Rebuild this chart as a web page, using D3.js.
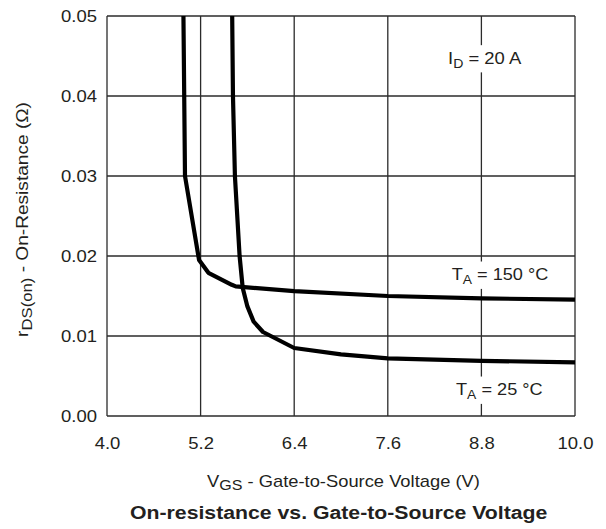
<!DOCTYPE html>
<html>
<head>
<meta charset="utf-8">
<script src="https://cdn.jsdelivr.net/npm/d3@7"></script>
<style>
  html, body { margin: 0; padding: 0; background: #fff; }
  text { font-family: "Liberation Sans", Arial, Helvetica, sans-serif; fill: #231f20; }
</style>
</head>
<body>
<svg id="chart" width="606" height="529"></svg>
<script>
// ---- data ----
const xTicks = [4.0, 5.2, 6.4, 7.6, 8.8, 10.0];
const yTicks = [0.00, 0.01, 0.02, 0.03, 0.04, 0.05];
const vgs150 = [4.98, 5.00, 5.18, 5.30, 5.60, 5.65, 6.40, 7.60, 8.80, 10.00];
const r150   = [0.0500, 0.0300, 0.0195, 0.0179, 0.0164, 0.0162, 0.0156, 0.0150, 0.0147, 0.01455];
const vgs25  = [5.605, 5.615, 5.64, 5.70, 5.74, 5.80, 5.88, 6.00, 6.40, 7.00, 7.60, 8.80, 10.00];
const r25    = [0.0500, 0.0400, 0.0300, 0.0200, 0.0160, 0.0137, 0.0118, 0.0105, 0.0085, 0.0077, 0.0072, 0.0069, 0.0067];

const svg = d3.select("#chart");
const pLeft = 107, pRight = 575, pTop = 16, pBottom = 416;
const x = d3.scaleLinear().domain([4, 10]).range([pLeft, pRight]);
const y = d3.scaleLinear().domain([0, 0.05]).range([pBottom, pTop]);
const FONT = "Liberation Sans, Arial, sans-serif";

// grid
const grid = svg.append("g").attr("stroke", "#2b2b2b").attr("stroke-width", 1.3);
grid.selectAll("line.v").data(xTicks).enter().append("line")
  .attr("x1", d => x(d)).attr("x2", d => x(d)).attr("y1", pTop).attr("y2", pBottom);
grid.selectAll("line.h").data(yTicks).enter().append("line")
  .attr("x1", pLeft).attr("x2", pRight).attr("y1", d => y(d)).attr("y2", d => y(d));

function stretchTicks(sel, f) {
  sel.each(function() {
    const w = this.getComputedTextLength();
    d3.select(this).attr("textLength", w * f).attr("lengthAdjust", "spacingAndGlyphs");
  });
}

// axes (labels only)
const xAxis = d3.axisBottom(x).tickValues(xTicks).tickFormat(d3.format(".1f")).tickSize(0).tickPadding(21);
const gx = svg.append("g").attr("transform", `translate(0,${pBottom})`).call(xAxis);
gx.select(".domain").remove();
gx.selectAll("text").attr("font-size", 16.5).attr("font-family", FONT).attr("fill", "#231f20");
stretchTicks(gx.selectAll("text"), 1.12);

const yAxis = d3.axisLeft(y).tickValues(yTicks).tickFormat(d3.format(".2f")).tickSize(0).tickPadding(10);
const gy = svg.append("g").attr("transform", `translate(${pLeft},0)`).call(yAxis);
gy.select(".domain").remove();
gy.selectAll("text").attr("font-size", 16.5).attr("font-family", FONT).attr("fill", "#231f20");
stretchTicks(gy.selectAll("text"), 1.12);

// curves
const line = d3.line().x(d => x(d[0])).y(d => y(d[1]));
const s150 = vgs150.map((v, i) => [v, r150[i]]);
const s25 = vgs25.map((v, i) => [v, r25[i]]);
[s150, s25].forEach(s => {
  svg.append("path").datum(s).attr("d", line)
    .attr("fill", "none").attr("stroke", "#000").attr("stroke-width", 4.2)
    .attr("stroke-linejoin", "round");
});

// helper: text group stretched horizontally to a target width
function stretched(parent, tx, ty, width, anchor, rotate, build) {
  const g = parent.append("g");
  const inner = g.append("g");
  const t = inner.append("text").attr("text-anchor", anchor);
  build(t);
  const w = t.node().getBBox().width;
  const s = width / w;
  g.attr("transform", `translate(${tx},${ty})` + (rotate ? ` rotate(${rotate})` : ""));
  inner.attr("transform", `scale(${s},1)`);
  return g;
}

// annotation labels with white background
function label(xp, yp, width, main, sub, rest) {
  const bgLayer = svg.append("g");
  const g = stretched(svg, xp, yp, width, "start", 0, t => {
    t.attr("font-size", 17);
    t.append("tspan").text(main);
    t.append("tspan").attr("font-size", 13).attr("dy", 4).text(sub);
    t.append("tspan").attr("dy", -4).text(rest);
  });
  const bb = g.node().getBBox();
  const inner = g.select("g").node().getBBox();
  bgLayer.append("rect")
    .attr("x", xp - 3).attr("y", yp + inner.y - 3)
    .attr("width", width + 6).attr("height", inner.height + 5)
    .attr("fill", "#fff");
}
label(448, 63.5, 74, "I", "D", " = 20 A");
label(451.7, 280, 96.6, "T", "A", " = 150 °C");
label(456, 395, 86.7, "T", "A", " = 25 °C");

// x axis title
stretched(svg, 207, 486.5, 273, "start", 0, t => {
  t.attr("font-size", 16);
  t.append("tspan").text("V");
  t.append("tspan").attr("font-size", 14).attr("dy", 3.5).text("GS");
  t.append("tspan").attr("dy", -3.5).text(" - Gate-to-Source Voltage (V)");
});

// y axis title
stretched(svg, 28, 219.5, 235, "middle", -90, t => {
  t.attr("font-size", 16);
  t.append("tspan").text("r");
  t.append("tspan").attr("font-size", 14).attr("dy", 4).text("DS(on)");
  t.append("tspan").attr("dy", -4).text(" - On-Resistance (Ω)");
});

// chart title
stretched(svg, 130, 519, 418, "start", 0, t => {
  t.attr("font-size", 17.5).attr("font-weight", "bold").text("On-resistance vs. Gate-to-Source Voltage");
});
</script>
</body>
</html>
